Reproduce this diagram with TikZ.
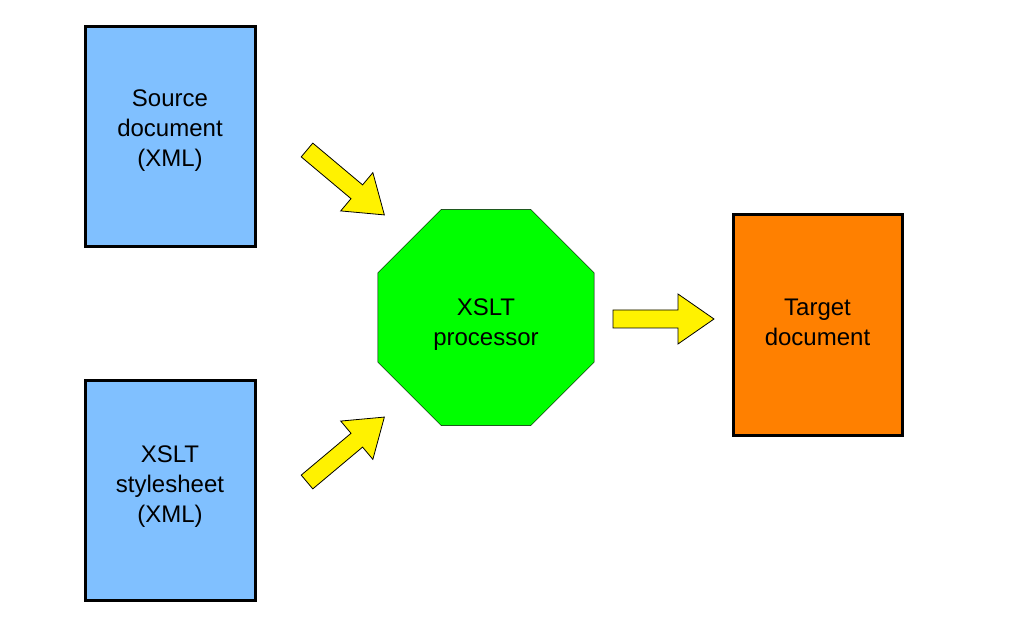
\documentclass[tikz,border=0pt]{standalone}
\usepackage{fontspec}
\setmainfont{Liberation Sans}
\usetikzlibrary{shapes.geometric}
\definecolor{docblue}{RGB}{128,192,255}
\definecolor{procgreen}{RGB}{0,255,0}
\definecolor{docorange}{RGB}{255,128,0}
\tikzset{
	docbox/.style={draw,line width=3pt,minimum width=170pt,minimum height=220pt,align=center,font=\fontsize{24}{30}\selectfont},
	procbox/.style={draw,regular polygon,regular polygon sides=8,fill=procgreen,minimum size=234pt,inner sep=0pt,align=center,font=\fontsize{24}{30}\selectfont},
	blockarrow/.style={draw,fill=yellow,line width=0.8pt,line join=miter}
}
\begin{document}
\begin{tikzpicture}[x=1pt,y=1pt]
	\useasboundingbox (0,0) rectangle (1010,623);
	\node[docbox,fill=docblue] (source) at (170,486) {Source\\document\\(XML)\\[-12pt]};
	\node[docbox,fill=docblue] (style) at (170,132) {XSLT\\stylesheet\\(XML)\\[-16pt]};
	\node[procbox] (proc) at (486,305.5) {{}\\[0pt]XSLT\\processor};
	\node[docbox,fill=docorange,minimum width=169pt,minimum height=221pt] (target) at (817.5,297.5) {Target\\document\\[-24pt]};
	% block arrows
	\foreach \pos/\ang in {{(307,473)}/-40,{(307,141)}/40,{(613,304)}/0}
		\draw[blockarrow,shift=\pos,rotate=\ang] (0,9) -- (65,9) -- (65,25) -- (101,0) -- (65,-25) -- (65,-9) -- (0,-9) -- cycle;
\end{tikzpicture}
\end{document}
